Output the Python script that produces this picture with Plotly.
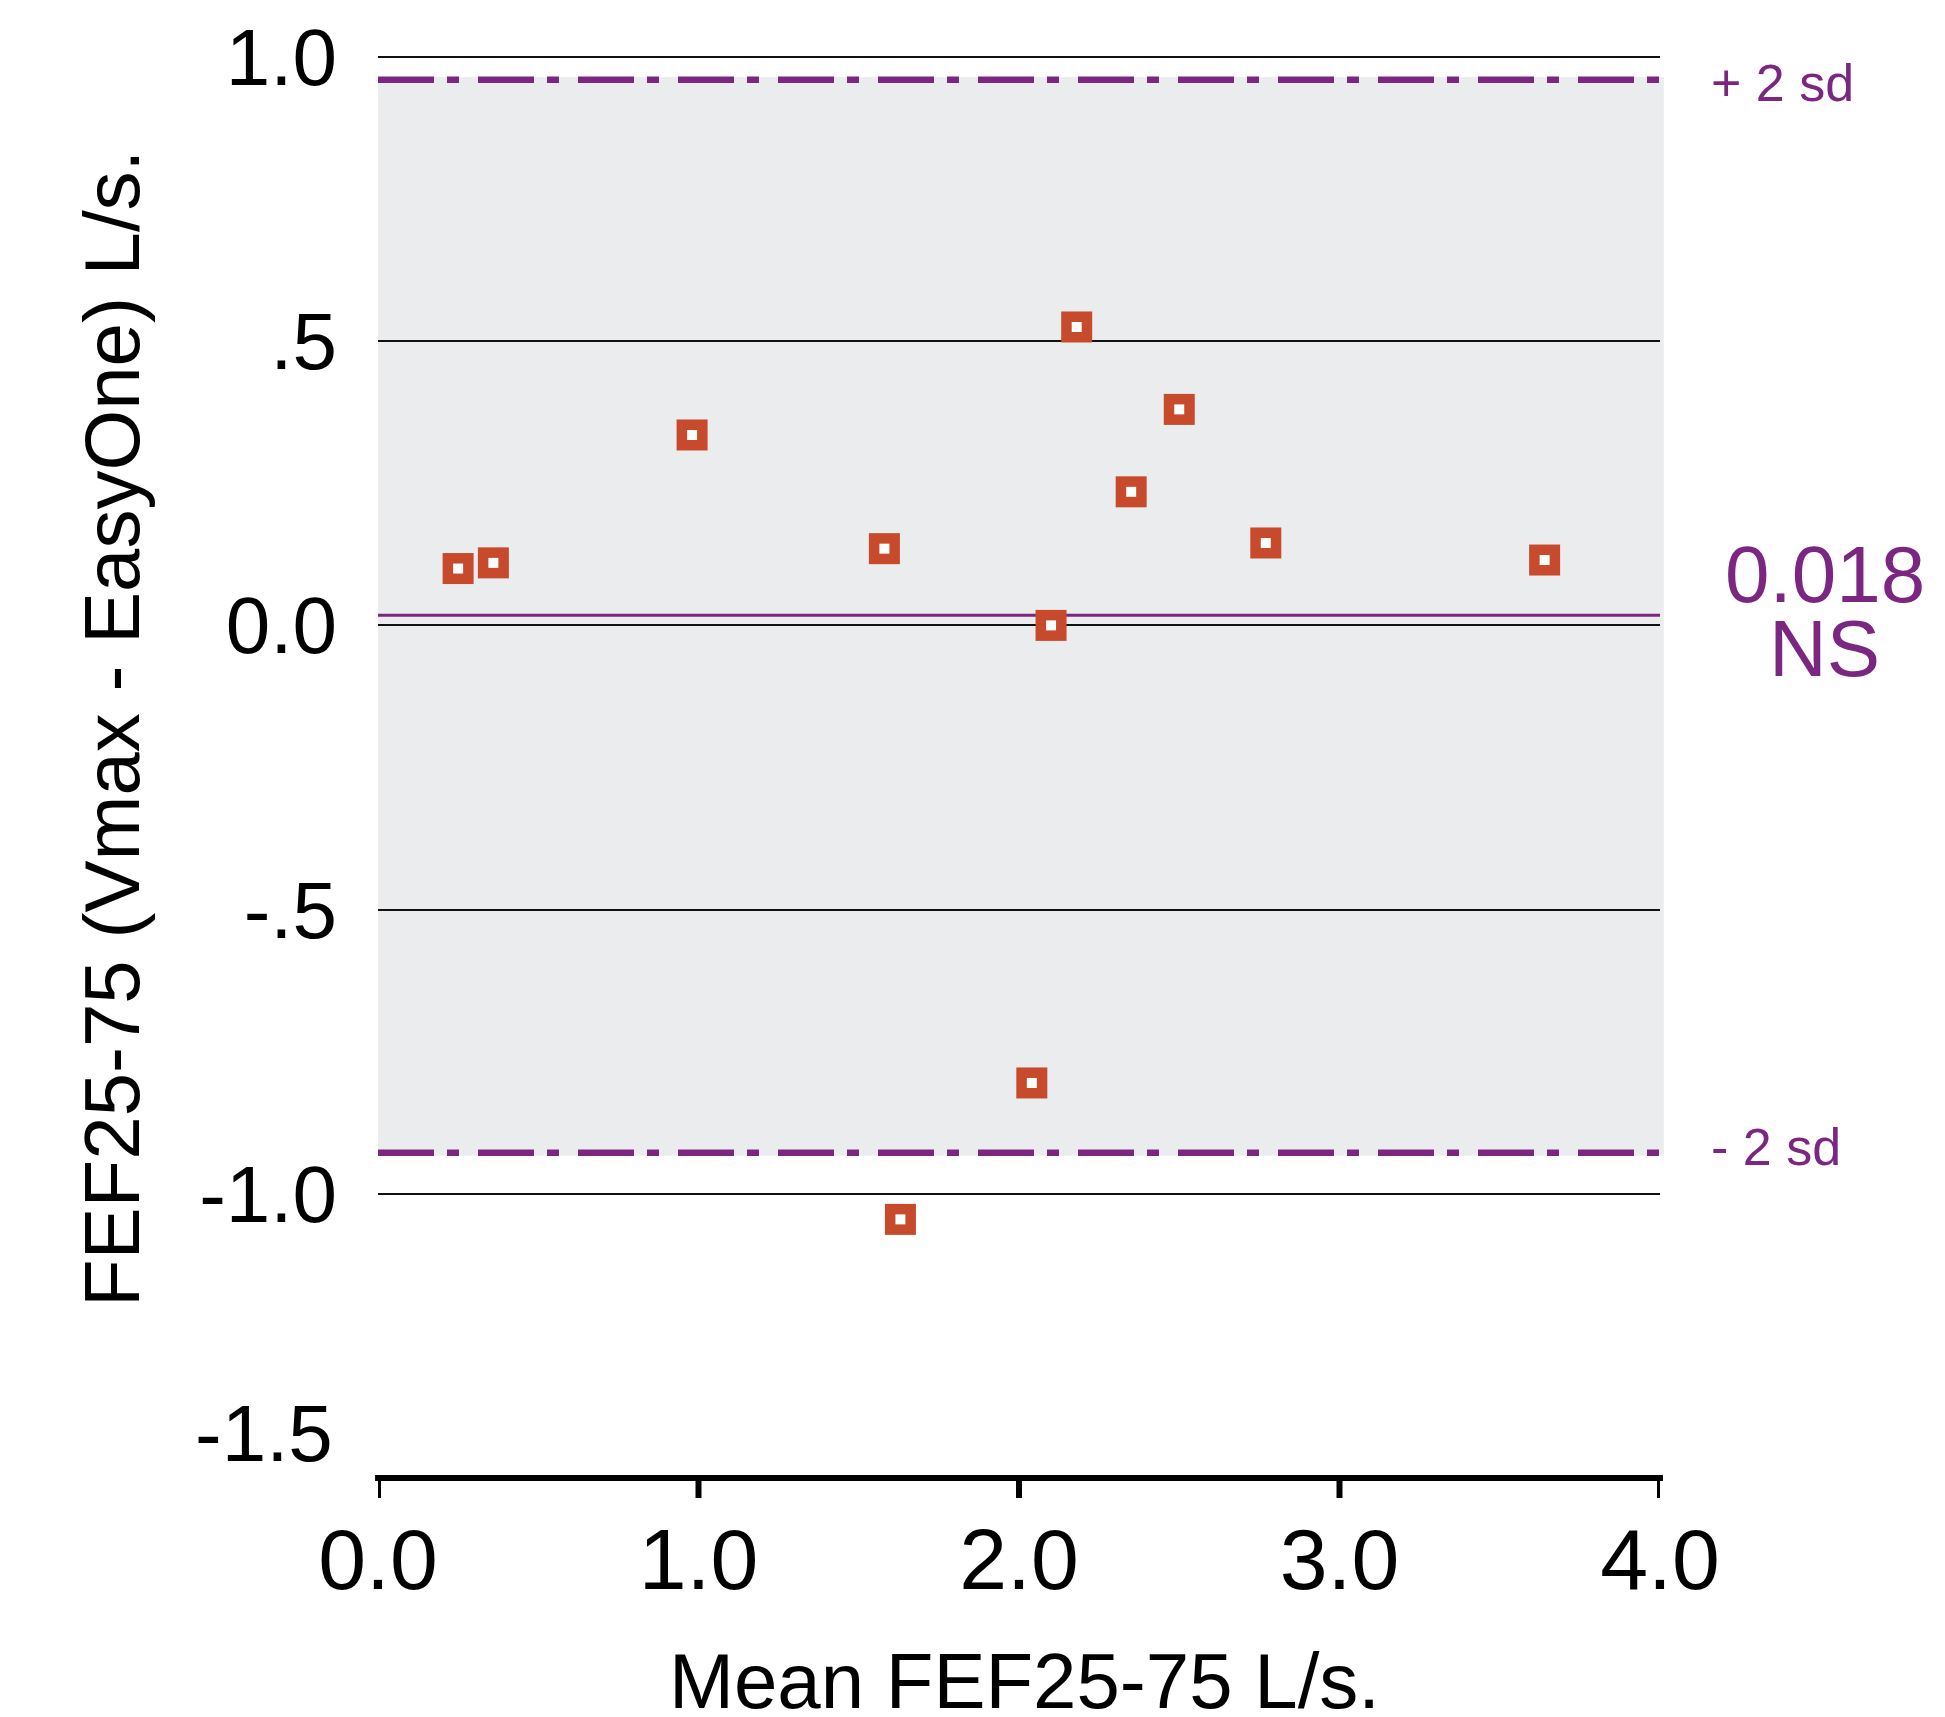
import plotly.graph_objects as go

# Data (Bland-Altman plot)
mean_fef = [0.25, 0.36, 0.98, 1.58, 1.63, 2.04, 2.10, 2.18, 2.35, 2.50, 2.77, 3.64]
diff_fef = [0.10, 0.11, 0.335, 0.135, -1.045, -0.805, 0.00, 0.525, 0.235, 0.38, 0.145, 0.115]

mean_diff = 0.018
upper_2sd = 0.96
lower_2sd = -0.928

x_tickvals = [0, 1, 2, 3, 4]
x_ticktext = ["0.0", "1.0", "2.0", "3.0", "4.0"]
y_tickvals = [1.0, 0.5, 0.0, -0.5, -1.0]
y_ticktext = ["1.0", ".5", "0.0", "-.5", "-1.0"]

PURPLE = "#7B2781"
RED = "#C64A2B"
BAND = "#EBECEE"
FONT = "Liberation Sans, Arial, sans-serif"

fig = go.Figure()
fig.add_trace(go.Scatter(
    x=mean_fef, y=diff_fef, mode="markers",
    marker=dict(symbol="square", size=31, color=RED, line=dict(width=0)),
    hoverinfo="x+y", showlegend=False))
fig.add_trace(go.Scatter(
    x=mean_fef, y=diff_fef, mode="markers",
    marker=dict(symbol="square", size=10, color="white", line=dict(width=0)),
    hoverinfo="skip", showlegend=False))

# grey band between limits of agreement
fig.add_shape(type="rect", xref="paper", yref="y", x0=0, x1=1.003,
              y0=lower_2sd - 0.005, y1=upper_2sd + 0.005,
              fillcolor=BAND, line=dict(width=0), layer="below")
# limits of agreement
for yv in (upper_2sd, lower_2sd):
    fig.add_shape(type="line", xref="paper", yref="y", x0=0, x1=1.006, y0=yv, y1=yv,
                  line=dict(color=PURPLE, width=6.5, dash="56px,13px,12px,19px"),
                  layer="between")
# mean difference
fig.add_shape(type="line", xref="x", yref="y", x0=0, x1=4, y0=mean_diff, y1=mean_diff,
              line=dict(color=PURPLE, width=3), layer="between")
# x axis line (bottom of plot area)
fig.add_shape(type="line", xref="paper", yref="paper", x0=-0.0023, x1=1.0023, y0=0, y1=0,
              line=dict(color="black", width=6), layer="above")
# x axis tick marks
for tv in x_tickvals:
    fig.add_shape(type="line", xref="x", yref="paper", ysizemode="pixel", yanchor=0,
                  x0=tv, x1=tv, y0=0, y1=-20,
                  line=dict(color="black", width=6), layer="above")

fig.update_xaxes(range=[0, 4], showgrid=False, zeroline=False, showline=False,
                 tickvals=x_tickvals, ticktext=x_ticktext, ticks="",
                 tickfont=dict(family=FONT, size=86, color="black"),
                 ticklabelstandoff=24)
fig.update_yaxes(range=[-1.5, 1.0035], showgrid=True, gridcolor="#111111", gridwidth=2,
                 zeroline=True, zerolinecolor="#111111", zerolinewidth=2,
                 showline=False, tickvals=y_tickvals, ticktext=y_ticktext,
                 ticks="", tickfont=dict(family=FONT, size=80, color="black"),
                 ticklabelstandoff=40)

ann = []
ann.append(dict(text="Mean FEF25-75 L/s.", xref="paper", yref="paper", x=0.504, y=-0.1429,
                xanchor="center", yanchor="middle", showarrow=False,
                font=dict(family=FONT, size=78, color="black")))
ann.append(dict(text="FEF25-75 (Vmax - EasyOne) L/s.", xref="paper", yref="paper",
                x=-0.2075, y=0.527, xanchor="center", yanchor="middle", textangle=-90,
                showarrow=False, font=dict(family=FONT, size=78, color="black")))
ann.append(dict(text="-1.5", xref="paper", yref="y", x=-0.0335, y=-1.5, yshift=45,
                xanchor="right", yanchor="middle", showarrow=False,
                font=dict(family=FONT, size=80, color="black")))
ann.append(dict(text="+ 2 sd", xref="paper", yref="y", x=1.0382, y=upper_2sd, yshift=-3,
                xanchor="left", yanchor="middle", showarrow=False,
                font=dict(family=FONT, size=52, color=PURPLE)))
ann.append(dict(text="- 2 sd", xref="paper", yref="y", x=1.0382, y=lower_2sd, yshift=6,
                xanchor="left", yanchor="middle", showarrow=False,
                font=dict(family=FONT, size=52, color=PURPLE)))
ann.append(dict(text=f"{mean_diff:.3f}", xref="paper", yref="paper", x=1.1287, y=0.6348,
                xanchor="center", yanchor="middle", showarrow=False,
                font=dict(family=FONT, size=80, color=PURPLE)))
ann.append(dict(text="NS", xref="paper", yref="paper", x=1.1287, y=0.5827,
                xanchor="center", yanchor="middle", showarrow=False,
                font=dict(family=FONT, size=80, color=PURPLE)))

fig.update_layout(width=1945, height=1717,
                  margin=dict(l=378, r=285, t=55, b=239, pad=0),
                  paper_bgcolor="white", plot_bgcolor="white",
                  annotations=ann)

fig.write_html("out.html", config={"displayModeBar": False},
               post_script="document.body.style.margin='0';")
